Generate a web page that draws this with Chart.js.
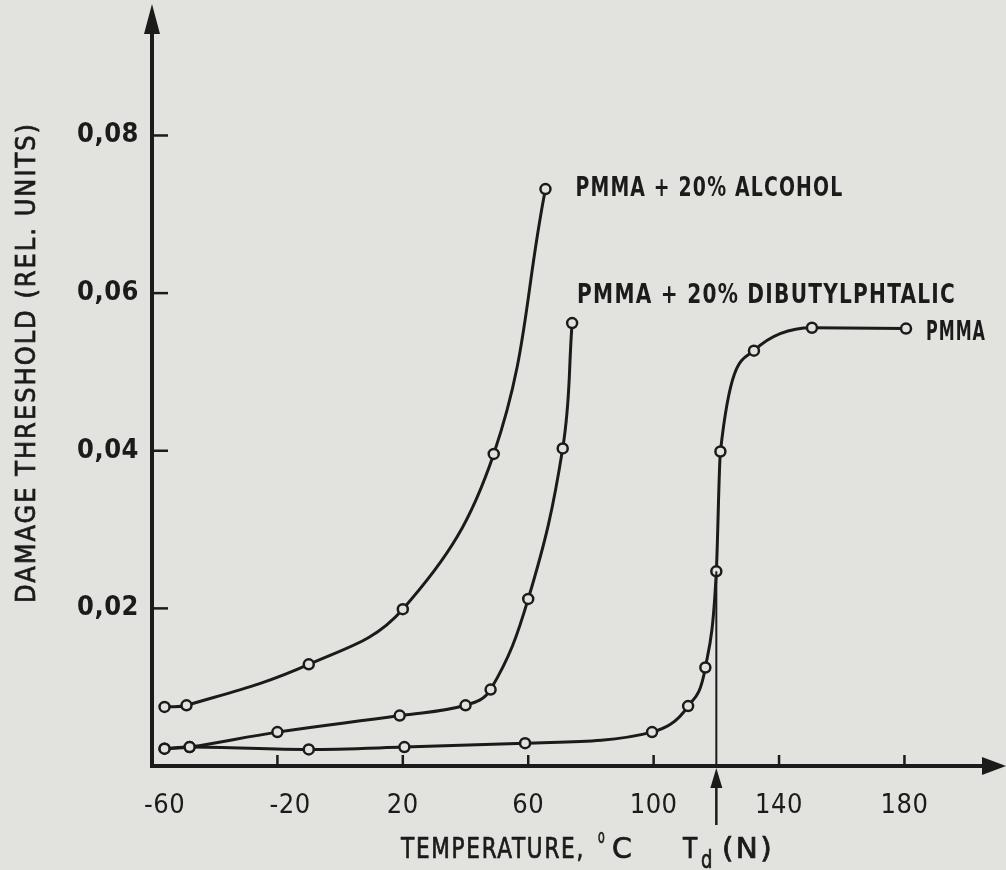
<!DOCTYPE html>
<html lang="en">
<head>
<meta charset="UTF-8">
<title>Damage threshold vs temperature</title>
<script src="https://cdn.jsdelivr.net/npm/chart.js"></script>
<style>
  html, body { margin: 0; padding: 0; background: #e2e2de; }
  #wrap { width: 1006px; height: 870px; }
</style>
</head>
<body>
<div id="wrap"><canvas id="chart"></canvas></div>
<script>
// temperature (deg C) / damage threshold (rel. units)
const alcoholT = [-56, -49, -10, 20, 49, 65.5];
const alcoholD = [0.0075, 0.0077, 0.0129, 0.0199, 0.0396, 0.0732];
const dibutylT = [-56, -48, -20, 19, 40, 48, 60, 71, 74];
const dibutylD = [0.0022, 0.0024, 0.0043, 0.0064, 0.0077, 0.0097, 0.0212, 0.0403, 0.0562];
const pmmaT = [-56, -48, -10, 20.5, 59, 99.5, 111, 116.5, 120, 121.3, 132, 150.5, 180.5];
const pmmaD = [0.0022, 0.0024, 0.0021, 0.0024, 0.0029, 0.0043, 0.0076, 0.0125, 0.0247, 0.0399, 0.0527, 0.0556, 0.0555];
const seriesNames = ["PMMA + 20% ALCOHOL", "PMMA + 20% DIBUTYLPHTALIC", "PMMA"];
const xTicks = [-60, -20, 20, 60, 100, 140, 180];
const yTicks = [0.02, 0.04, 0.06, 0.08];
const tdTemp = 120;

const INK = "#1b1b1b";
const BG = "#e2e2de";
const FONT = "'DejaVu Sans Condensed', 'DejaVu Sans', sans-serif";

const pts = (xs, ys) => xs.map((x, i) => ({ x: x, y: ys[i] }));

function series(label, data, mono) {
  return {
    label: label,
    data: data,
    showLine: true,
    borderColor: INK,
    borderWidth: 3,
    tension: 0.4,
    cubicInterpolationMode: mono ? "monotone" : "default",
    pointRadius: 5,
    pointBorderWidth: 2.5,
    pointBackgroundColor: BG,
    pointBorderColor: INK
  };
}

// the lettering is narrow: squeeze text so it spans the given width
function fitText(ctx, txt, x, y, width, heavy) {
  const w = ctx.measureText(txt).width;
  ctx.save();
  ctx.translate(x, y);
  ctx.scale(width / w, 1);
  ctx.fillText(txt, 0, 0);
  if (heavy) {
    ctx.lineWidth = 0.7;
    ctx.strokeText(txt, 0, 0);
  }
  ctx.restore();
}

// arrowheads, tick marks, Td marker, titles and curve names
const decor = {
  id: "decor",
  beforeDraw(chart) {
    chart.ctx.letterSpacing = "0.5px";
  },
  afterDraw(chart) {
    const { ctx, chartArea: a, scales: { x, y } } = chart;
    ctx.save();
    ctx.fillStyle = INK;
    ctx.strokeStyle = INK;

    // arrowheads
    ctx.beginPath();
    ctx.moveTo(a.left, 4); ctx.lineTo(a.left - 8, 34); ctx.lineTo(a.left + 8, 34); ctx.closePath();
    ctx.fill();
    ctx.beginPath();
    ctx.moveTo(1006, a.bottom); ctx.lineTo(982, a.bottom - 9); ctx.lineTo(982, a.bottom + 9); ctx.closePath();
    ctx.fill();

    // tick marks inside the plot
    ctx.lineWidth = 2.5;
    yTicks.forEach(v => {
      const py = y.getPixelForValue(v);
      ctx.beginPath(); ctx.moveTo(a.left, py); ctx.lineTo(a.left + 16, py); ctx.stroke();
    });
    xTicks.slice(1).forEach(v => {
      const px = x.getPixelForValue(v);
      ctx.beginPath(); ctx.moveTo(px, a.bottom); ctx.lineTo(px, a.bottom - 11); ctx.stroke();
    });

    // Td marker
    const tx = x.getPixelForValue(tdTemp);
    const tTop = y.getPixelForValue(pmmaD[pmmaT.indexOf(tdTemp)]);
    ctx.lineWidth = 2;
    ctx.beginPath(); ctx.moveTo(tx, a.bottom); ctx.lineTo(tx, tTop); ctx.stroke();
    ctx.lineWidth = 2.5;
    ctx.beginPath(); ctx.moveTo(tx, a.bottom + 15); ctx.lineTo(tx, a.bottom + 59); ctx.stroke();
    ctx.beginPath();
    ctx.moveTo(tx, a.bottom + 2); ctx.lineTo(tx - 6, a.bottom + 22); ctx.lineTo(tx + 6, a.bottom + 22); ctx.closePath();
    ctx.fill();

    // curve names
    ctx.font = "bold 27px " + FONT;
    ctx.letterSpacing = "1.5px";
    ctx.textBaseline = "middle";
    ctx.textAlign = "left";
    const ends = chart.data.datasets.map((d, i) => chart.getDatasetMeta(i).data[d.data.length - 1]);
    fitText(ctx, seriesNames[0], ends[0].x + 30, ends[0].y, 268);
    fitText(ctx, seriesNames[1], ends[1].x + 5, ends[1].y - 27, 379);
    fitText(ctx, seriesNames[2], ends[2].x + 20, ends[2].y + 4, 60);

    // y title
    ctx.save();
    ctx.translate(35, 603);
    ctx.rotate(-Math.PI / 2);
    ctx.textBaseline = "alphabetic";
    ctx.font = "27px " + FONT;
    ctx.letterSpacing = "2px";
    fitText(ctx, "DAMAGE THRESHOLD (REL. UNITS)", 0, 0, 481, true);
    ctx.restore();

    // x title with super/subscripts
    ctx.textBaseline = "alphabetic";
    ctx.letterSpacing = "2px";
    const base = 858;
    const put = (txt, size, px, dy, w) => {
      ctx.font = size + "px " + FONT;
      fitText(ctx, txt, px, base + dy, w, true);
    };
    put("TEMPERATURE,", 28, 401, 0, 184);
    put("o", 19, 598, -15, 8);
    put("C", 28, 612, 0, 22);
    put("T", 28, 683, 0, 16);
    put("d", 25, 701, 10, 13);
    put("(N)", 28, 722, 0, 52);

    ctx.restore();
  }
};

new Chart(document.getElementById("chart"), {
  type: "scatter",
  data: {
    datasets: [
      series(seriesNames[0], pts(alcoholT, alcoholD), false),
      series(seriesNames[1], pts(dibutylT, dibutylD), false),
      series(seriesNames[2], pts(pmmaT, pmmaD), true)
    ]
  },
  options: {
    responsive: true,
    maintainAspectRatio: false,
    animation: false,
    layout: { padding: { top: 15, right: 3, left: 0, bottom: 0 } },
    plugins: { legend: { display: false }, tooltip: { enabled: false } },
    scales: {
      x: {
        type: "linear",
        min: -60,
        max: 210,
        afterFit: s => { s.height = 104; },
        afterBuildTicks: s => { s.ticks = xTicks.map(v => ({ value: v })); },
        grid: { display: false },
        border: { color: INK, width: 4 },
        ticks: {
          color: INK,
          padding: 16,
          font: { family: FONT, size: 27 },
          // negative labels sit right of their tick in the original
          callback: v => (v < 0 ? "\u2002\u2002" : "") + v
        }
      },
      y: {
        type: "linear",
        min: 0,
        max: 0.0945,
        afterFit: s => { s.width = 152; },
        afterBuildTicks: s => { s.ticks = yTicks.map(v => ({ value: v })); },
        grid: { display: false },
        border: { color: INK, width: 4 },
        ticks: {
          color: INK,
          padding: 5,
          font: { family: FONT, size: 27, weight: "bold" },
          callback: v => v.toFixed(2).replace(".", ",")
        }
      }
    }
  },
  plugins: [decor]
});
</script>
</body>
</html>
